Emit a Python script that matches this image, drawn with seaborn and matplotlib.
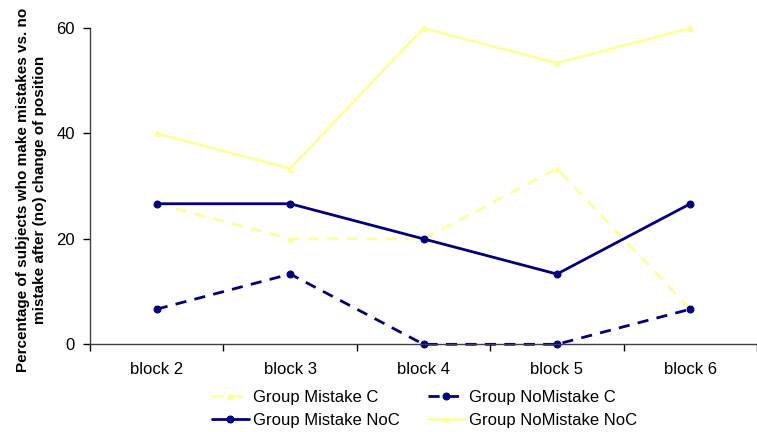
import numpy as np
import pandas as pd
import seaborn as sns
import matplotlib.pyplot as plt

blocks = ["block 2", "block 3", "block 4", "block 5", "block 6"]
mistake_c = [26.67, 20.0, 20.0, 33.33, 6.67]
nomistake_c = [6.67, 13.33, 0.0, 0.0, 6.67]
mistake_noc = [26.67, 26.67, 20.0, 13.33, 26.67]
nomistake_noc = [40.0, 33.33, 60.0, 53.33, 60.0]

NAVY = "#000080"
YELLOW = "#FFFF99"

series = {
    "Group Mistake C": (mistake_c, YELLOW, "^", "--"),
    "Group NoMistake C": (nomistake_c, NAVY, "o", "--"),
    "Group Mistake NoC": (mistake_noc, NAVY, "o", "-"),
    "Group NoMistake NoC": (nomistake_noc, YELLOW, "^", "-"),
}

sns.set_theme(style="ticks")
plt.rcParams["font.family"] = ["Liberation Sans", "DejaVu Sans"]

fig = plt.figure(figsize=(7.57, 4.32), dpi=100)
ax = fig.add_axes([0.119, 0.203, 0.881, 0.732])

for name, (vals, col, mk, ls) in series.items():
    df = pd.DataFrame({"block": blocks, "value": vals})
    sns.lineplot(data=df, x="block", y="value", color=col, marker=mk,
                 linestyle=ls, linewidth=2.0, markersize=5,
                 markeredgecolor=col, ax=ax, label=name, clip_on=False)

# dash pattern like the original
for line in ax.get_lines():
    if line.get_linestyle() == "--":
        line.set_dashes((4, 3))

ax.set_xlim(-0.5, 4.455)
ax.set_ylim(0, 60)
ax.set_yticks([0, 20, 40, 60])
ax.set_xticks(np.arange(-0.5, 4.6, 1), minor=False)
ax.set_xticklabels([])
ax.set_xticks(range(len(blocks)), minor=True)
ax.set_xticklabels(blocks, minor=True)
ax.tick_params(axis="x", which="minor", length=0, labelsize=12, pad=13, labelcolor="black")
ax.tick_params(axis="x", which="major", length=5, width=1, color="black", direction="out")
ax.tick_params(axis="y", length=5, width=1, color="black", labelsize=12, pad=6, labelcolor="black")
ax.set_xlabel("")
ax.set_ylabel("Percentage of subjects who make mistakes vs. no\nmistake after (no) change of position",
              fontsize=11, fontweight="bold", color="black", linespacing=1.3)
ax.yaxis.set_label_coords(-0.0645, 0.488)
sns.despine(ax=ax)
for s in ["left", "bottom"]:
    ax.spines[s].set_color("#404040")
    ax.spines[s].set_linewidth(1.0)

h, l = ax.get_legend_handles_labels()
ax.get_legend().remove()
order = [0, 2, 1, 3]
leg = fig.legend([h[i] for i in order], [l[i] for i in order], ncol=2, frameon=False,
                 loc="upper left", bbox_to_anchor=(212 / 757, 1 - 390 / 432),
                 borderpad=0, borderaxespad=0, fontsize=12,
                 handlelength=2.2, columnspacing=1.7, labelspacing=0.45, handletextpad=0.25)
for t in leg.get_texts():
    t.set_color("black")

fig.savefig("out.png", dpi=100)
